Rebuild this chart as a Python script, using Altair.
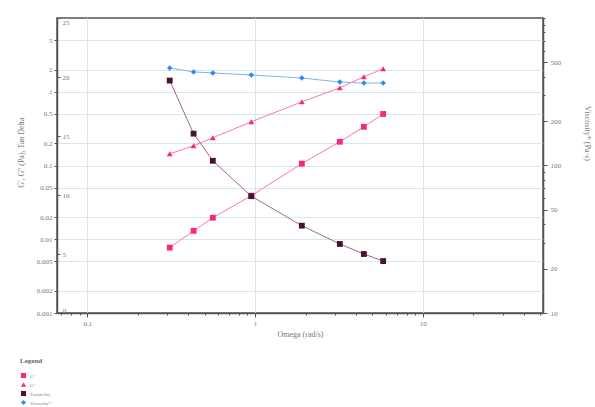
import altair as alt
import pandas as pd

# ---- data ----
omega = [0.31, 0.43, 0.56, 0.95, 1.9, 3.2, 4.45, 5.8]
g_prime = [0.0077, 0.013, 0.0196, 0.039, 0.106, 0.21, 0.335, 0.50]
g_double = [0.144, 0.185, 0.238, 0.392, 0.73, 1.13, 1.6, 2.05]
tan_delta = [19.7, 15.2, 12.9, 9.9, 7.4, 5.85, 5.0, 4.4]
viscosity = [458, 431, 424, 411, 392, 368, 362, 362]

series_names = ["G'", "G''", "Tan(delta)", "Viscosity*"]
marker_colors = ["#f5287c", "#f5287c", "#4a1235", "#2a8cf2"]
line_colors = ["#f77aa8", "#f77aa8", "#9b6a86", "#79b6f2"]
marker_shapes = ["square", "triangle-up", "square", "diamond"]

x_ticks = [0.07, 0.08, 0.09, 0.1, 0.2, 0.3, 0.4, 0.5, 0.6, 0.7, 0.8, 0.9,
           1, 2, 3, 4, 5, 6, 7, 8, 9, 10, 20, 30, 40, 50]
left_ticks = [0.001, 0.002, 0.005, 0.01, 0.02, 0.05, 0.1, 0.2, 0.5, 1, 2, 5]
inner_ticks = [0, 5, 10, 15, 20, 25]
right_ticks = [10, 20, 30, 40, 50, 60, 70, 80, 90, 100, 200, 300, 400, 500,
               600, 700, 800, 900, 1000]

df_g = pd.DataFrame({
    "omega": omega + omega,
    "value": g_prime + g_double,
    "series": [series_names[0]] * len(omega) + [series_names[1]] * len(omega),
})
df_t = pd.DataFrame({"omega": omega, "value": tan_delta,
                     "series": [series_names[2]] * len(omega)})
df_v = pd.DataFrame({"omega": omega, "value": viscosity,
                     "series": [series_names[3]] * len(omega)})

W, H = 486, 295
GRID = "#d6e5f2"

decade_test = "datum.value == 0.1 || datum.value == 1 || datum.value == 10"
X = alt.X(
    "omega:Q",
    scale=alt.Scale(type="log", domain=[0.066, 52], nice=False),
    axis=alt.Axis(
        values=x_ticks,
        labelExpr=f"({decade_test}) ? datum.label : ''",
        grid=True,
        gridColor=GRID,
        gridOpacity={"condition": {"test": decade_test, "value": 1}, "value": 0},
        tickSize={"condition": {"test": decade_test, "value": 4}, "value": 2},
        labelPadding=2,
        title="Omega (rad/s)",
        titlePadding=4,
    ),
)

color_scale = alt.Scale(domain=series_names, range=marker_colors)
shape_scale = alt.Scale(domain=series_names, range=marker_shapes)
# line colours: domain taken from the data (sorted the same way)
stroke_scale = alt.Scale(range=line_colors)

def layer_pair(df, ychan, size):
    line = alt.Chart(df).mark_line(strokeWidth=1).encode(
        x=X, y=ychan,
        stroke=alt.Stroke("series:N", scale=stroke_scale, legend=None),
        detail="series:N",
    )
    pts = alt.Chart(df).mark_point(filled=True, size=size, opacity=1).encode(
        x=X, y=ychan,
        color=alt.Color("series:N", scale=color_scale, title="Legend"),
        shape=alt.Shape("series:N", scale=shape_scale, title="Legend"),
    )
    return alt.layer(line, pts)

Y_left = alt.Y("value:Q",
               scale=alt.Scale(type="log", domain=[0.001, 10], nice=False),
               axis=alt.Axis(orient="left", values=left_ticks, format="~g",
                             grid=True, gridColor=GRID, tickSize=3,
                             labelPadding=2,
                             title="G', G'' (Pa), Tan Delta",
                             titleX=-32, titleY=134))
Y_inner = alt.Y("value:Q",
                scale=alt.Scale(domain=[0, 25], nice=False, zero=False),
                axis=alt.Axis(orient="right", offset=-W, values=inner_ticks,
                              grid=False, domain=False, tickSize=3,
                              labelPadding=2, labelFlush=True, title=None))
right_test = "indexof([10, 20, 50, 100, 200, 500], datum.value) >= 0"
Y_right = alt.Y("value:Q",
                scale=alt.Scale(type="log", domain=[10, 1000], nice=False),
                axis=alt.Axis(orient="right", values=right_ticks,
                              labelExpr=f"({right_test}) ? datum.label : ''",
                              tickSize={"condition": {"test": right_test, "value": 4}, "value": 2},
                              grid=False, labelPadding=3,
                              title="Viscosity* (Pa·s)",
                              titleX=39, titleY=115))

chart = alt.layer(
    layer_pair(df_g, Y_left, 34),
    layer_pair(df_t, Y_inner, 34),
    layer_pair(df_v, Y_right, 30),
).resolve_scale(y="independent").properties(
    width=W, height=H,
    autosize=alt.AutoSizeParams(type="none"),
    padding={"left": 57, "top": 18, "right": 595 - 57 - W, "bottom": 407 - 18 - H},
).configure(
    font="Liberation Serif",
    background="white",
).configure_axis(
    labelFont="Liberation Serif", titleFont="Liberation Serif",
    labelFontSize=7, titleFontSize=8, labelColor="#777", titleColor="#777",
    titleFontWeight="normal", domainColor="#555", domainWidth=1.5,
    tickColor="#555",
).configure_legend(
    orient="none", legendX=-37, legendY=339, padding=0,
    titleFont="Liberation Serif", labelFont="Liberation Serif",
    titleFontSize=7, labelFontSize=5, symbolSize=26,
    rowPadding=2, titlePadding=8, labelColor="#888", titleColor="#666",
    labelOffset=3,
).configure_view(stroke="#555", strokeWidth=1.5)

chart.save("out.html", embed_options={"renderer": "svg", "actions": False})
